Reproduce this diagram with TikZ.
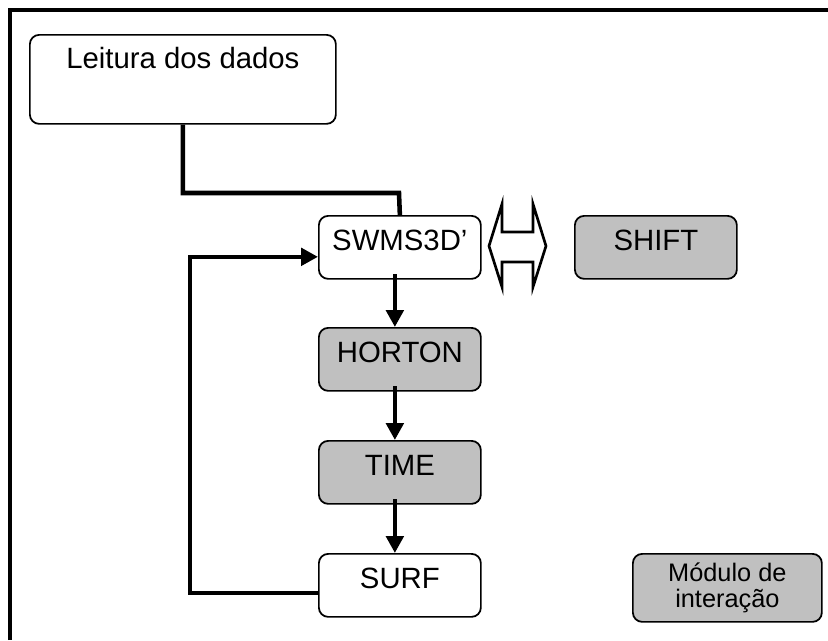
\documentclass[tikz,border=0pt]{standalone}
\usepackage{fontspec}
\setmainfont{Liberation Sans}
\usetikzlibrary{arrows.meta}
\definecolor{boxgray}{RGB}{192,192,192}
\tikzset{every picture/.style={line width=0.75pt}}
\tikzset{
  modbox/.style={draw, line width=1.3pt, rounded corners=7pt, anchor=north west, inner sep=0pt,
    minimum width=121.5pt, text height=26.25pt, text depth=21pt, font=\fontsize{22}{26}\selectfont},
  graybox/.style={modbox, fill=boxgray},
  flow/.style={line width=3.4pt, -{Triangle[length=12.75pt,width=13pt]}},
  link/.style={line width=3.4pt}
}

\begin{document}
\begin{tikzpicture}[x=0.75pt,y=0.75pt,yscale=-1,xscale=1]
\useasboundingbox (0,0) rectangle (828,640);

%Frame
\draw [line width=3.3pt] (10,640) -- (10,10) -- (828,10) ;

% Boxes
\node [modbox, minimum width=229.5pt, text height=25.5pt, text depth=41.25pt] (leitura) at (29,34) {Leitura dos dados};
\node [modbox] (swms) at (318,215) {SWMS3D’};
\node [graybox] (shift) at (574,215) {SHIFT};
\node [graybox] (horton) at (318,327) {HORTON};
\node [graybox] (time) at (318,440) {TIME};
\node [modbox] (surf) at (318,553) {SURF};
\node [draw, line width=1.3pt, rounded corners=7pt, fill=boxgray, anchor=north west, inner sep=0pt,
  minimum width=141.75pt, minimum height=51pt, align=center,
  font=\fontsize{19}{19.5}\selectfont] (modulo) at (632,553) {Módulo de\\interação};

%Double arrow
\draw [line width=2pt, fill=white] (489,246) -- (502,204) -- (502,232) -- (533,232) -- (533,204) -- (546,246) -- (533,287) -- (533,262) -- (502,262) -- (502,287) -- cycle ;

% Connectors
\coordinate (joint) at (399,193);
\coordinate (loopx) at (190,400);
\draw [link] (leitura.south) |- (joint) -- (swms.north) ;
\draw [flow] ([xshift=-3.75pt,yshift=-4pt]swms.south) -- ([xshift=-3.75pt]horton.north) ;
\draw [flow] ([xshift=-3.75pt,yshift=-4pt]horton.south) -- ([xshift=-3.75pt]time.north) ;
\draw [flow] ([xshift=-3.75pt,yshift=-4pt]time.south) -- ([xshift=-3.75pt]surf.north) ;
\draw [flow] ([yshift=5.6pt]surf.west) -| (loopx) |- ([yshift=7.1pt]swms.west) ;

\end{tikzpicture}
\end{document}
